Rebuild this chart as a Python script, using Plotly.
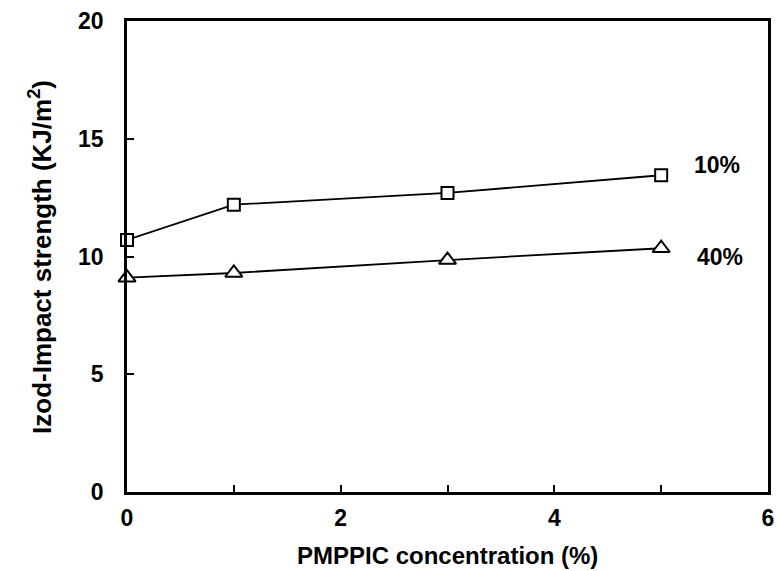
import plotly.graph_objects as go

conc = [0, 1, 3, 5]
s10 = [10.7, 12.2, 12.7, 13.45]
s40 = [9.1, 9.3, 9.85, 10.35]
series_labels = ["10%", "40%"]
x_ticks = [0, 2, 4, 6]
y_ticks = [0, 5, 10, 15, 20]

FAM = "Liberation Sans, Arial, sans-serif"
font = dict(family=FAM, color="black", weight="bold")

fig = go.Figure()
fig.add_trace(go.Scatter(x=conc, y=s10, mode="lines+markers",
                         line=dict(color="black", width=1.8),
                         marker=dict(symbol="square", size=12, color="white",
                                     line=dict(color="black", width=2)),
                         cliponaxis=False, showlegend=False))
fig.add_trace(go.Scatter(x=conc, y=s40, mode="lines+markers",
                         line=dict(color="black", width=1.8),
                         marker=dict(symbol="triangle-up", size=15, color="white",
                                     line=dict(color="black", width=2)),
                         cliponaxis=False, showlegend=False))

fig.add_annotation(x=5.52, y=13.9, text=series_labels[0], showarrow=False,
                   font=dict(size=23, **font), xanchor="center", yanchor="middle")
fig.add_annotation(x=5.55, y=9.96, text=series_labels[1], showarrow=False,
                   font=dict(size=23, **font), xanchor="center", yanchor="middle")

# axis titles
fig.add_annotation(xref="paper", yref="paper", x=0.5, y=-0.134,
                   text="PMPPIC concentration (%)", showarrow=False,
                   font=dict(size=24, **font), xanchor="center", yanchor="middle")
fig.add_annotation(xref="paper", yref="paper", x=-0.135, y=0.5,
                   text="Izod-Impact strength (KJ/m<sup>2</sup>)", showarrow=False,
                   textangle=-90, font=dict(size=26, **font),
                   xanchor="center", yanchor="middle")

axis_common = dict(showgrid=False, zeroline=False, showline=True, linecolor="black",
                   linewidth=2.5, mirror=True, ticks="inside", ticklen=7,
                   tickcolor="black", tickwidth=2, automargin=False,
                   tickfont=dict(size=23, **font))

fig.update_xaxes(range=[0, 6], tickvals=list(range(0, 7)),
                 ticktext=[str(v) if v in x_ticks else "" for v in range(0, 7)],
                 ticklabelstandoff=4, **axis_common)
fig.update_yaxes(range=[0, 20], tickvals=y_ticks, ticklabelstandoff=16,
                 **axis_common)

fig.update_layout(width=777, height=571, plot_bgcolor="white", paper_bgcolor="white",
                  margin=dict(l=127, r=9, t=21, b=79))

# remove the default page margin so the figure fills the window exactly
fig.write_html("out.html", config={"displayModeBar": False},
               post_script="document.body.style.margin='0';"
                           "document.body.style.overflow='hidden';")
